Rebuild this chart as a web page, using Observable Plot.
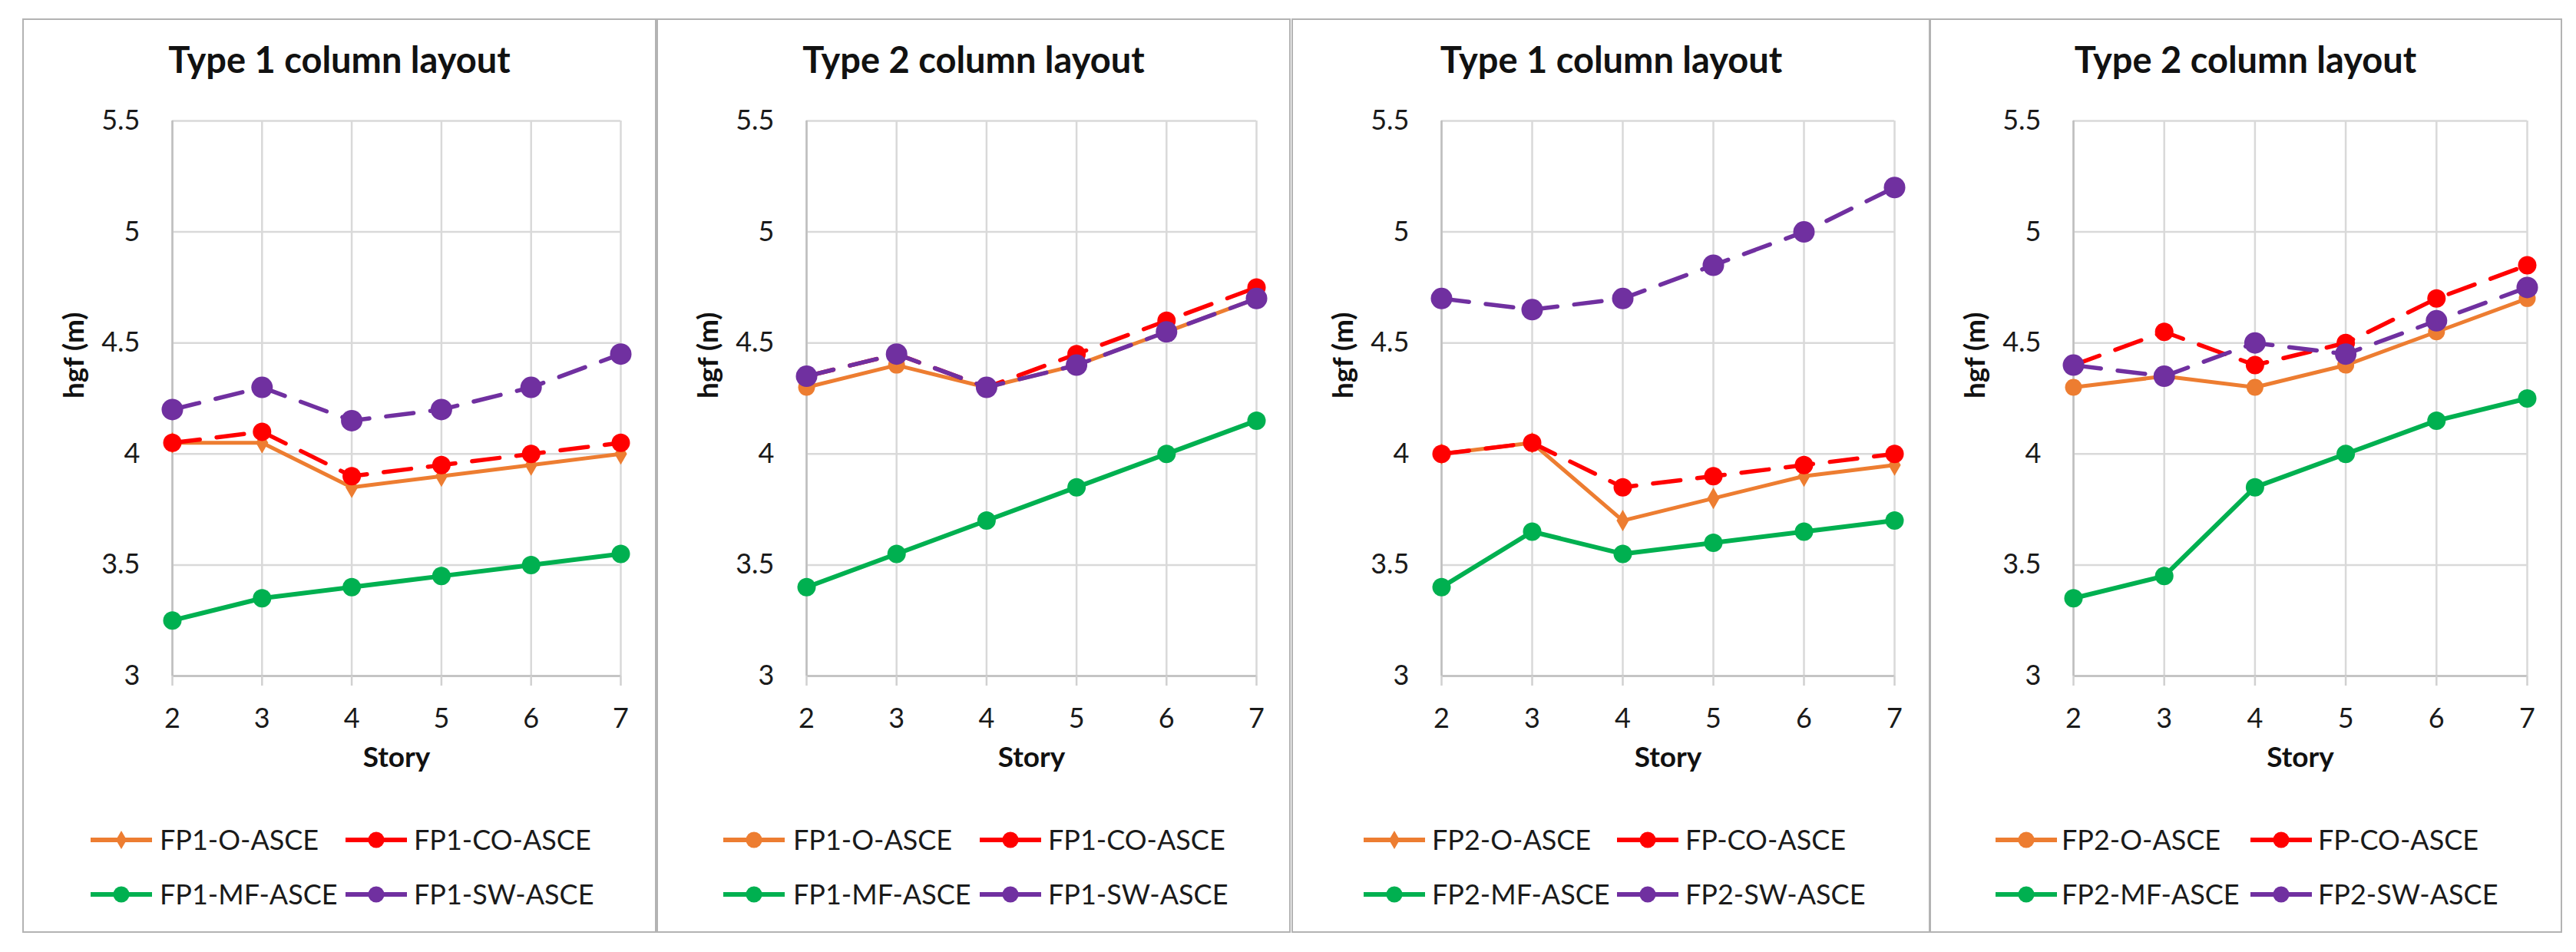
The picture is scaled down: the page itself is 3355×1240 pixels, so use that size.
<!DOCTYPE html>
<html><head><meta charset="utf-8">
<script src="https://cdn.jsdelivr.net/npm/d3@7"></script>
<script src="https://cdn.jsdelivr.net/npm/@observablehq/plot@0.6"></script>
<style>
html,body{margin:0;padding:0;background:#fff;}
#root{position:relative;width:3355px;height:1240px;overflow:hidden;font-family:Lato,"Liberation Sans",sans-serif;}
.panel{position:absolute;top:24px;height:1191px;box-sizing:border-box;border:2.5px solid #b3b3b3;}
.title{position:absolute;font-weight:bold;font-size:47px;color:#111;text-align:center;line-height:47px;top:54px;white-space:nowrap;}
.plotbox{position:absolute;top:120px;}
.leg{position:absolute;font-size:36px;color:#1a1a1a;line-height:36px;white-space:nowrap;}
.sw{position:absolute;}
</style></head><body><div id="root"></div>
<script>
// ---- data ----
const storyLevels = [2, 3, 4, 5, 6, 7];
const xTickLabels = ["2", "3", "4", "5", "6", "7"];
const yTicks = [3, 3.5, 4, 4.5, 5, 5.5];
const yTickLabels = ["3", "3.5", "4", "4.5", "5", "5.5"];
const panelTitles = ["Type 1 column layout", "Type 2 column layout", "Type 1 column layout", "Type 2 column layout"];
const xAxisTitle = "Story";
const yAxisTitle = "hgf (m)";
const legendLabelsFP1 = ["FP1-O-ASCE", "FP1-CO-ASCE", "FP1-MF-ASCE", "FP1-SW-ASCE"];
const legendLabelsFP2 = ["FP2-O-ASCE", "FP-CO-ASCE", "FP2-MF-ASCE", "FP2-SW-ASCE"];

// Panel 1: Type 1 column layout (FP1)
const p1O  = [4.05, 4.05, 3.85, 3.90, 3.95, 4.00];
const p1CO = [4.05, 4.10, 3.90, 3.95, 4.00, 4.05];
const p1MF = [3.25, 3.35, 3.40, 3.45, 3.50, 3.55];
const p1SW = [4.20, 4.30, 4.15, 4.20, 4.30, 4.45];
// Panel 2: Type 2 column layout (FP1)
const p2O  = [4.30, 4.40, 4.30, 4.40, 4.55, 4.70];
const p2CO = [4.35, 4.45, 4.30, 4.45, 4.60, 4.75];
const p2MF = [3.40, 3.55, 3.70, 3.85, 4.00, 4.15];
const p2SW = [4.35, 4.45, 4.30, 4.40, 4.55, 4.70];
// Panel 3: Type 1 column layout (FP2)
const p3O  = [4.00, 4.05, 3.70, 3.80, 3.90, 3.95];
const p3CO = [4.00, 4.05, 3.85, 3.90, 3.95, 4.00];
const p3MF = [3.40, 3.65, 3.55, 3.60, 3.65, 3.70];
const p3SW = [4.70, 4.65, 4.70, 4.85, 5.00, 5.20];
// Panel 4: Type 2 column layout (FP2)
const p4O  = [4.30, 4.35, 4.30, 4.40, 4.55, 4.70];
const p4CO = [4.40, 4.55, 4.40, 4.50, 4.70, 4.85];
const p4MF = [3.35, 3.45, 3.85, 4.00, 4.15, 4.25];
const p4SW = [4.40, 4.35, 4.50, 4.45, 4.60, 4.75];

// ---- styles ----
const seriesStyles = [
  {color: "#ED7D31", width: 5,   dash: null,    r: 11},   // O
  {color: "#FF0000", width: 5.5, dash: "36,22", r: 12},   // CO
  {color: "#00B050", width: 6,   dash: null,    r: 12},   // MF
  {color: "#7030A0", width: 5.5, dash: "36,22", r: 14}    // SW
];

const panels = [
  {title: panelTitles[0], labels: legendLabelsFP1, values: [p1O, p1CO, p1MF, p1SW], oSymbol: "diamond", box: [29, 855], plot: [224, 808], leg: [88, 179, 420, 510]},
  {title: panelTitles[1], labels: legendLabelsFP1, values: [p2O, p2CO, p2MF, p2SW], oSymbol: "circle",  box: [855, 1681], plot: [1050, 1636], leg: [86, 178, 420, 510]},
  {title: panelTitles[2], labels: legendLabelsFP2, values: [p3O, p3CO, p3MF, p3SW], oSymbol: "diamond", box: [1682, 2515], plot: [1877, 2467], leg: [93, 183, 423, 513]},
  {title: panelTitles[3], labels: legendLabelsFP2, values: [p4O, p4CO, p4MF, p4SW], oSymbol: "circle",  box: [2512, 3337], plot: [2700, 3291], leg: [86, 173, 418, 507]}
];

const root = document.getElementById("root");
const ML = 194, MR = 40, MT = 37, MB = 160, H = 920;
const legendRows = [1094, 1165];

panels.forEach((p) => {
  const L = p.box[0];
  const panel = document.createElement("div");
  panel.className = "panel";
  panel.style.left = L + "px";
  panel.style.width = (p.box[1] - p.box[0]) + "px";
  root.appendChild(panel);

  const t = document.createElement("div");
  t.className = "title";
  t.textContent = p.title;
  t.style.left = L + "px";
  t.style.width = (p.box[1] - p.box[0]) + "px";
  root.appendChild(t);

  const plotW = p.plot[1] - p.plot[0];
  const W = ML + plotW + MR;

  const seriesMarks = [];
  p.values.forEach((vals, si) => {
    const st = seriesStyles[si];
    const rows = storyLevels.map((s, i) => ({story: s, value: vals[i]}));
    const lineOpts = {x: "story", y: "value", stroke: st.color, strokeWidth: st.width, strokeLinejoin: "round"};
    if (st.dash) lineOpts.strokeDasharray = st.dash;
    seriesMarks.push(Plot.line(rows, lineOpts));
    const sym = si === 0 ? p.oSymbol : "circle";
    const r = (si === 0 && sym === "diamond") ? 8.5 : st.r;
    seriesMarks.push(Plot.dot(rows, {x: "story", y: "value", r, symbol: sym, fill: st.color, stroke: "none"}));
  });

  const chart = Plot.plot({
    width: W, height: H,
    marginLeft: ML, marginRight: MR, marginTop: MT, marginBottom: MB,
    style: {fontFamily: "Lato, 'Liberation Sans', sans-serif", background: "transparent", overflow: "visible"},
    x: {domain: [2, 7]},
    y: {domain: [3, 5.5]},
    marks: [
      Plot.gridY(yTicks, {stroke: "#d9d9d9", strokeOpacity: 1, strokeWidth: 2.5}),
      Plot.gridX(storyLevels, {stroke: "#d9d9d9", strokeOpacity: 1, strokeWidth: 2.5}),
      Plot.ruleX([2], {stroke: "#bfbfbf", strokeWidth: 2.5}),
      Plot.ruleY([3], {stroke: "#bfbfbf", strokeWidth: 2.5}),
      Plot.axisX(storyLevels, {tickSize: 13, tickPadding: 29, stroke: "#d0d0d0", strokeWidth: 2.5, fill: "#1a1a1a", fontSize: 36, tickFormat: d => xTickLabels[storyLevels.indexOf(d)], label: null}),
      Plot.axisY(yTicks, {tickSize: 0, tickPadding: 42, fill: "#1a1a1a", fontSize: 36, tickFormat: d => yTickLabels[yTicks.indexOf(d)], label: null}),
      ...seriesMarks,
      Plot.text([xAxisTitle], {text: d => d, frameAnchor: "bottom", dy: 118, fontSize: 37, fontWeight: "bold", fill: "#111"}),
      Plot.text([yAxisTitle], {text: d => d, frameAnchor: "left", dx: -127, rotate: -90, fontSize: 37, fontWeight: "bold", fill: "#111"})
    ]
  });
  const box = document.createElement("div");
  box.className = "plotbox";
  box.style.left = (p.plot[0] - ML) + "px";
  box.appendChild(chart);
  root.appendChild(box);

  // legend
  p.labels.forEach((lab, i) => {
    const col = i % 2, row = Math.floor(i / 2);
    const st = seriesStyles[i];
    const y = legendRows[row];
    const lx = L + (col ? p.leg[2] : p.leg[0]);
    const tx = L + (col ? p.leg[3] : p.leg[1]);
    const ns = "http://www.w3.org/2000/svg";
    const svg = document.createElementNS(ns, "svg");
    svg.setAttribute("width", 82); svg.setAttribute("height", 32);
    svg.setAttribute("class", "sw");
    svg.style.left = lx + "px"; svg.style.top = (y - 16) + "px";
    const ln = document.createElementNS(ns, "line");
    ln.setAttribute("x1", 1); ln.setAttribute("x2", 81); ln.setAttribute("y1", 16); ln.setAttribute("y2", 16);
    ln.setAttribute("stroke", st.color); ln.setAttribute("stroke-width", 6);
    svg.appendChild(ln);
    if (i === 0 && p.oSymbol === "diamond") {
      const pg = document.createElementNS(ns, "path");
      pg.setAttribute("d", "M41,4 L48,16 L41,28 L34,16 Z");
      pg.setAttribute("fill", st.color);
      svg.appendChild(pg);
    } else {
      const c = document.createElementNS(ns, "circle");
      c.setAttribute("cx", 41); c.setAttribute("cy", 16); c.setAttribute("r", 10.5);
      c.setAttribute("fill", st.color);
      svg.appendChild(c);
    }
    root.appendChild(svg);
    const d = document.createElement("div");
    d.className = "leg";
    d.textContent = lab;
    d.style.left = tx + "px";
    d.style.top = (y - 19) + "px";
    root.appendChild(d);
  });
});
</script>
</body></html>
